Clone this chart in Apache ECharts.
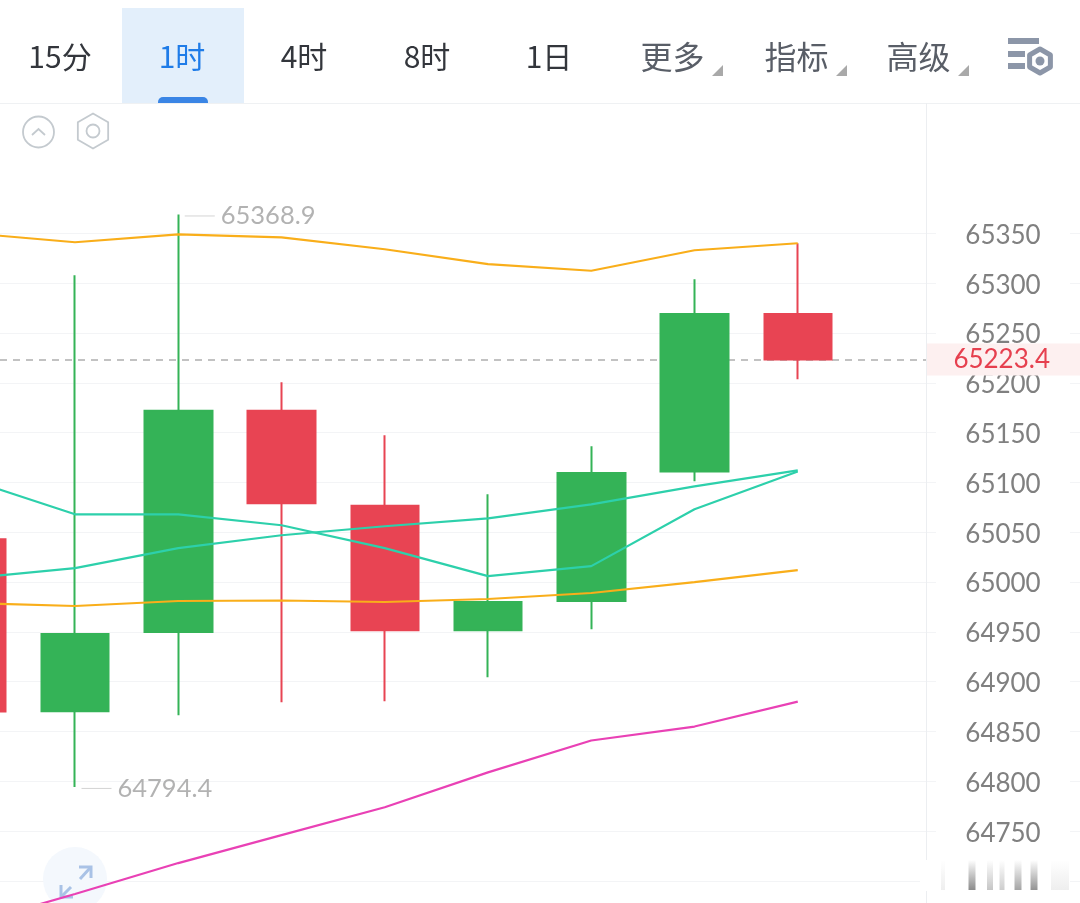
<!DOCTYPE html>
<html>
<head>
<meta charset="utf-8">
<style>html,body{margin:0;padding:0;background:#fff}#main{width:1080px;height:903px}</style>
<script src="https://cdn.jsdelivr.net/npm/echarts@6/dist/echarts.min.js"></script>
</head>
<body>
<div id="main"></div>
<script>
// [open, close, low, high]
var candles = [
    [65043, 64870, 64850, 65060],
    [64870.4, 64948, 64794.4, 65307.9],
    [64950, 65172, 64866.4, 65368.9],
    [65172, 65079.1, 64879.4, 65200.5],
    [65076.5, 64951.7, 64880.5, 65147.3],
    [64951.7, 64980, 64904.5, 65088.1],
    [64981, 65109.5, 64952.7, 65136.3],
    [65111, 65269, 65101.2, 65303.8],
    [65269, 65223.4, 65203.5, 65340]
];
var bollUpper = [65350, 65341, 65349, 65346, 65334, 65319, 65312.4, 65333, 65340];
var tealA = [65102, 65068, 65068, 65057, 65034, 65006, 65016, 65073, 65111];
var tealB = [65004, 65014, 65034, 65047, 65056, 65064, 65078, 65096, 65112];
var bollMid = [64979, 64976, 64981, 64981.5, 64980, 64983, 64989, 65000, 65012];
var bollLower = [64657, 64687, 64718, 64746, 64774, 64809, 64841, 64855, 64880];
var highMark = [2, 65368.9];
var lowMark = [1, 64794.4];
var lastPrice = 65223.4;
var tabs = ['15分', '1时', '4时', '8时', '1日'];
var tabCenters = [60, 182, 304, 427, 549];
var menus = ['更多', '指标', '高级'];
var menuCenters = [673, 797, 919];

function pairs(arr) {
    return arr.map(function (v, i) { return [i, v]; });
}
function lineSeries(arr, color) {
    return {
        type: 'line', data: pairs(arr), symbol: 'none', clip: false, silent: true, z: 5,
        lineStyle: {color: color, width: 2.2}
    };
}
function extreme(point) {
    return {
        type: 'scatter', data: [point], symbolSize: 1, clip: false, silent: true, z: 6,
        itemStyle: {color: 'rgba(0,0,0,0)'},
        label: {
            show: true, position: 'right', distance: 6, offset: [0, 1.5],
            formatter: function (p) { return '{rule| }{num|' + p.value[1].toFixed(1) + '}'; },
            rich: {
                rule: {width: 30, height: 1, backgroundColor: '#c8c8c8'},
                num: {fontFamily: 'Lato', fontSize: 25.5, color: '#9f9f9f', padding: [0, 0, 0, 6]}
            }
        }
    };
}

var graphics = [];
function text(x, y, str, color, size) {
    graphics.push({type: 'text', x: x, y: y, z: 20, silent: true, style: {
        text: str, fill: color, font: size + 'px "Noto Sans CJK SC"', textAlign: 'center', textVerticalAlign: 'middle'
    }});
}
// toolbar
graphics.push({type: 'rect', z: 1, silent: true, shape: {x: 122, y: 8, width: 122, height: 95}, style: {fill: '#e3effb'}});
graphics.push({type: 'rect', z: 2, silent: true, shape: {x: 158, y: 97, width: 50, height: 6, r: [5, 5, 0, 0]}, style: {fill: '#3a85e5'}});
graphics.push({type: 'rect', z: 3, silent: true, shape: {x: 0, y: 103, width: 1080, height: 1}, style: {fill: '#eff1f3'}});
graphics.push({type: 'rect', z: 3, silent: true, shape: {x: 926, y: 103, width: 1, height: 800}, style: {fill: '#eceef1'}});
tabs.forEach(function (t, i) {
    text(tabCenters[i], 57, t, i === 1 ? '#1f7ce8' : '#33363c', 30);
});
menus.forEach(function (t, i) {
    var c = menuCenters[i];
    text(c - 0.5, 57, t, '#595e67', 32);
    graphics.push({type: 'polygon', z: 20, silent: true, shape: {points: [[c + 39, 76], [c + 50, 76], [c + 50, 65]]}, style: {fill: '#a9a9a9'}});
});
// settings icon
[[1008, 38, 31], [1008, 51, 17], [1008, 63, 17]].forEach(function (r) {
    graphics.push({type: 'rect', z: 20, silent: true, shape: {x: r[0], y: r[1], width: r[2], height: 6}, style: {fill: '#8c96a8'}});
});
function hexPoints(cx, cy, r) {
    var pts = [];
    for (var i = 0; i < 6; i++) {
        var a = Math.PI / 3 * i + Math.PI / 6;
        pts.push([cx + r * Math.cos(a), cy + r * Math.sin(a)]);
    }
    return pts;
}
graphics.push({type: 'polygon', z: 20, silent: true, shape: {points: hexPoints(1040, 61, 12)}, style: {fill: 'none', stroke: '#8c96a8', lineWidth: 5, lineJoin: 'round'}});
graphics.push({type: 'circle', z: 20, silent: true, shape: {cx: 1040, cy: 61, r: 4.5}, style: {fill: '#8c96a8'}});
// collapse and hexagon buttons
graphics.push({type: 'circle', z: 20, silent: true, shape: {cx: 38.5, cy: 132, r: 15.5}, style: {fill: 'none', stroke: '#c4cacf', lineWidth: 1.8}});
graphics.push({type: 'polyline', z: 20, silent: true, shape: {points: [[32, 135], [38.5, 129], [45, 135]]}, style: {fill: 'none', stroke: '#c4cacf', lineWidth: 1.8}});
graphics.push({type: 'polygon', z: 20, silent: true, shape: {points: hexPoints(93, 131, 17.5)}, style: {fill: 'none', stroke: '#c4cacf', lineWidth: 1.8}});
graphics.push({type: 'circle', z: 20, silent: true, shape: {cx: 93, cy: 131, r: 6.5}, style: {fill: 'none', stroke: '#c4cacf', lineWidth: 1.8}});
// expand button
graphics.push({type: 'circle', z: 1, silent: true, shape: {cx: 75, cy: 879, r: 32}, style: {fill: '#f4f8fd'}});
[[[62, 896], [71, 887]], [[80, 879], [90, 868]], [[79, 867], [91, 867], [91, 878]], [[61, 885], [61, 897], [73, 897]]].forEach(function (pts) {
    graphics.push({type: 'polyline', z: 2, silent: true, shape: {points: pts}, style: {fill: 'none', stroke: '#a9c2e6', lineWidth: 3}});
});
// watermark at the bottom right
graphics.push({type: 'rect', z: 21, silent: true, shape: {x: 920, y: 860, width: 16, height: 31, r: 4}, style: {fill: '#fff'}});
[[972, 7, 0.7], [990, 6, 0.35], [1002, 5, 0.3], [1018, 7, 0.55], [1034, 7, 0.65], [1060, 18, 0.1], [943, 4, 0.1]].forEach(function (b) {
    graphics.push({type: 'rect', z: 21, silent: true, shape: {x: b[0] - b[1] / 2, y: 860, width: b[1], height: 30}, style: {
        fill: new echarts.graphic.LinearGradient(0, 0, 0, 1, [
            {offset: 0, color: 'rgba(90,90,90,0)'},
            {offset: 1, color: 'rgba(90,90,90,' + b[2] + ')'}
        ])
    }});
});

var myChart = echarts.init(document.getElementById('main'));
var option = {
    animation: false,
    backgroundColor: '#fff',
    grid: {left: 0, right: 0, top: 233.3, bottom: 22},
    xAxis: {type: 'value', min: 0.2736, max: 10.7336, show: false, splitLine: {show: false}},
    yAxis: {
        type: 'value', position: 'right', min: 64700, max: 65350, interval: 50,
        axisLine: {show: false}, axisTick: {show: false},
        splitLine: {show: true, lineStyle: {color: '#f3f4f6', width: 1}},
        axisLabel: {
            inside: true, margin: 77, align: 'center', backgroundColor: '#fff',
            formatter: function (value) { return '{n|' + (value === 64700 ? ' ' : value) + '}'; },
            rich: {
                n: {width: 134, align: 'center', color: '#808080', fontFamily: 'Lato', fontSize: 26, height: 26, padding: [4, 0, 0, 0]}
            }
        }
    },
    series: [
        {
            type: 'candlestick',
            data: candles.map(function (c, i) { return [i, c[0], c[1], c[2], c[3]]; }),
            encode: {x: 0, y: [1, 2, 3, 4]},
            barWidth: 68, clip: false, silent: true, z: 3,
            itemStyle: {color: '#34b357', color0: '#e84453', borderColor: '#34b357', borderColor0: '#e84453', borderWidth: 2},
            markLine: {
                silent: true, symbol: 'none', precision: 1, z: 2,
                lineStyle: {color: '#aeaeae', type: [7, 6], width: 1.6},
                label: {
                    position: 'insideEnd', distance: 0, height: 32, lineHeight: 32, padding: [0, 30, 0, 27],
                    backgroundColor: '#fdf0f0', color: '#e6404f', fontFamily: 'Lato', fontSize: 26,
                    formatter: function () { return lastPrice.toFixed(1); }
                },
                data: [{yAxis: lastPrice}]
            }
        },
        lineSeries(bollUpper, '#f9ae1a'),
        lineSeries(tealA, '#2dd0ab'),
        lineSeries(tealB, '#2dd0ab'),
        lineSeries(bollMid, '#f9ae1a'),
        lineSeries(bollLower, '#e941b5'),
        extreme(highMark),
        extreme(lowMark)
    ],
    graphic: graphics
};
myChart.setOption(option);
window.onresize = myChart.resize;
</script>
</body>
</html>
